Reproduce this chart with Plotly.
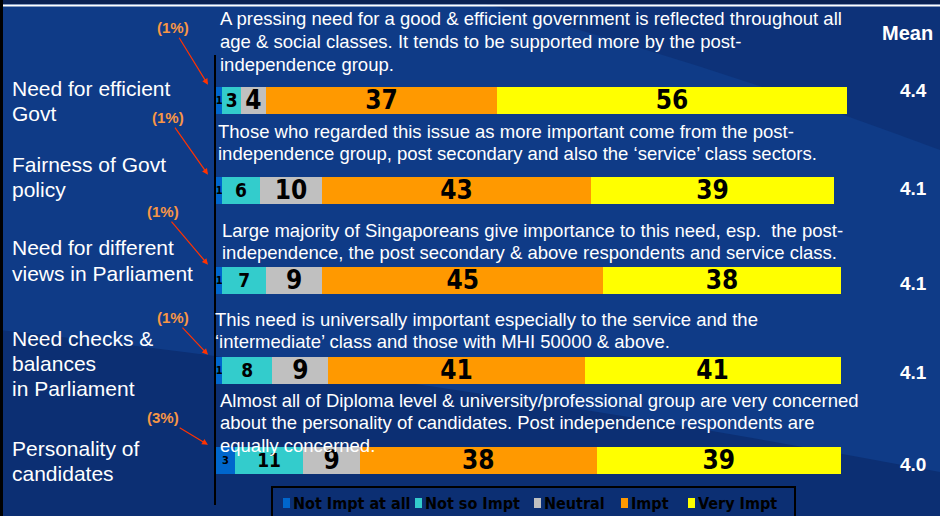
import plotly.graph_objects as go

# survey rows (top to bottom)
issues = [["Need for efficient", "Govt"], ["Fairness of Govt", "policy"],
          ["Need for different", "views in Parliament"],
          ["Need checks &", "balances", "in Parliament"], ["Personality of", "candidates"]]
not_impt_at_all = [1, 1, 1, 1, 3]
not_so_impt = [3, 6, 7, 8, 11]
neutral = [4, 10, 9, 9, 9]
impt = [37, 43, 45, 41, 38]
very_impt = [56, 39, 38, 41, 39]
means = ["4.4", "4.1", "4.1", "4.1", "4.0"]
comments = [
    ["A pressing need for a good & efficient government is reflected throughout all",
     "age & social classes. It tends to be supported more by the post-",
     "independence group."],
    ["Those who regarded this issue as more important come from the post-",
     "independence group, post secondary and also the ‘service’ class sectors."],
    ["Large majority of Singaporeans give importance to this need, esp.  the post-",
     "independence, the post secondary & above respondents and service class."],
    ["This need is universally important especially to the service and the",
     "‘intermediate’ class and those with MHI 50000 & above."],
    ["Almost all of Diploma level & university/professional group are very concerned",
     "about the personality of candidates. Post independence respondents are",
     "equally concerned."],
]
series_names = ["Not Impt at all", "Not so Impt", "Neutral", "Impt", "Very Impt"]

W, H = 940, 516
rows = list(range(len(issues)))
colors = ["#0066CC", "#33CCCC", "#C0C0C0", "#FF9900", "#FFFF00"]
label_sizes = [11, 19, 26, 26, 26]
num_font = "Liberation Sans Narrow, Arial Narrow, DejaVu Sans Condensed, Liberation Sans"
txt_font = "Liberation Sans, Arial"


def px(x):
    return x / W


def py(y):
    return 1 - y / H


fig = go.Figure()
for name, vals, col, sz in zip(series_names,
                               [not_impt_at_all, not_so_impt, neutral, impt, very_impt],
                               colors, label_sizes):
    fig.add_trace(go.Bar(
        y=rows, x=vals, name=name, orientation="h", width=0.3,
        marker=dict(color=col, line=dict(width=0)),
        text=[str(v) for v in vals], textposition="inside",
        insidetextanchor="middle", textangle=0, constraintext="none",
        textfont=dict(family=num_font, size=sz, color="black", weight="bold"),
        hoverinfo="x+name", showlegend=False,
    ))

shapes = [
    # darker lower band of the slide background
    dict(type="path", xref="paper", yref="paper", layer="below",
         path=f"M 0 {py(330)} Q {px(450)} {py(380)} 1 {py(472)} L 1 0 L 0 0 Z",
         fillcolor="#0C2F73", line=dict(width=0)),
    dict(type="path", xref="paper", yref="paper", layer="below",
         path=f"M {px(470)} 1 Q {px(700)} {py(60)} 1 {py(150)} L 1 1 Z",
         fillcolor="#0B2D70", line=dict(width=0), opacity=0.6),
    dict(type="rect", xref="paper", yref="paper", x0=0, x1=1, y0=py(4), y1=1,
         fillcolor="#0A2255", line=dict(width=0)),
    dict(type="line", xref="paper", yref="paper", x0=0, x1=1, y0=py(5.5), y1=py(5.5),
         line=dict(color="white", width=2)),
    dict(type="rect", xref="paper", yref="paper", x0=0, x1=px(3), y0=0, y1=1,
         fillcolor="black", line=dict(width=0)),
    dict(type="line", xref="paper", yref="paper", x0=px(215), x1=px(215),
         y0=py(55), y1=py(505), line=dict(color="black", width=2)),
    # legend frame (runs off the bottom of the slide)
    dict(type="rect", xref="paper", yref="paper", x0=px(272), x1=px(795),
         y0=py(520), y1=py(487), line=dict(color="black", width=2)),
]

ann = []
label_first_line = [89, 164, 248, 338, 448]
for lines, y0 in zip(issues, label_first_line):
    for i, line in enumerate(lines):
        ann.append(dict(text=line, x=px(10), y=py(y0 + 25 * i), xref="paper", yref="paper",
                        xanchor="left", yanchor="middle", showarrow=False,
                        font=dict(family=txt_font, size=21, color="white")))

comment_pos = [(218, 19), (216, 131), (220, 230), (213, 319), (218, 400)]
for lines, (cx, cy) in zip(comments, comment_pos):
    for i, line in enumerate(lines):
        ann.append(dict(text=line, x=px(cx), y=py(cy + 22.5 * i), xref="paper", yref="paper",
                        xanchor="left", yanchor="middle", showarrow=False,
                        font=dict(family=txt_font, size=18.5, color="white")))

ann.append(dict(text="<b>Mean</b>", x=px(907), y=py(33), xref="paper", yref="paper",
                xanchor="center", yanchor="middle", showarrow=False,
                font=dict(family=txt_font, size=20, color="white")))
mean_shift = [10, 2, -3, -2, -4]
for r, m, s in zip(rows, means, mean_shift):
    ann.append(dict(text=f"<b>{m}</b>", x=px(913), y=r, xref="paper", yref="y", yshift=s,
                    xanchor="center", yanchor="middle", showarrow=False,
                    font=dict(family=txt_font, size=19, color="white")))

# small "(n%)" call-outs pointing at the tiny first segment
offsets = [(-35, -57), (-40, -57), (-45, -53), (-35, -37), (-45, -27)]
for r, v, (ax, ay) in zip(rows, not_impt_at_all, offsets):
    ann.append(dict(text=f"<b>({v}%)</b>", x=px(208), y=r - 0.17, xref="paper", yref="y",
                    ax=ax, ay=ay, showarrow=True, arrowhead=2, arrowsize=1,
                    arrowwidth=1.2, arrowcolor="#FF3300", standoff=0,
                    font=dict(family=txt_font, size=15, color="#F79646")))

# hand-made legend: swatch + label
legend_x = [283, 415, 534, 621, 688]
for name, col, lx in zip(series_names, colors, legend_x):
    shapes.append(dict(type="rect", xref="paper", yref="paper",
                       x0=px(lx), x1=px(lx + 7), y0=py(508), y1=py(498),
                       fillcolor=col, line=dict(width=0)))
    ann.append(dict(text=f"<b>{name}</b>", x=px(lx + 8), y=py(503), xref="paper", yref="paper",
                    xanchor="left", yanchor="middle", showarrow=False,
                    font=dict(family=num_font, size=16, color="black")))

fig.update_layout(
    width=W, height=H, barmode="stack",
    margin=dict(l=0, r=0, t=0, b=0),
    paper_bgcolor="#0F3B87", plot_bgcolor="rgba(0,0,0,0)",
    xaxis=dict(domain=[px(216), px(850)], range=[0, 101.5], visible=False, fixedrange=True),
    yaxis=dict(domain=[0, 1], range=[(H - 100) / 90, -100 / 90], visible=False, fixedrange=True),
    shapes=shapes, annotations=ann,
    showlegend=False,
)

fig.write_html("out.html", config={"displayModeBar": False},
               post_script="document.body.style.margin='0';")
